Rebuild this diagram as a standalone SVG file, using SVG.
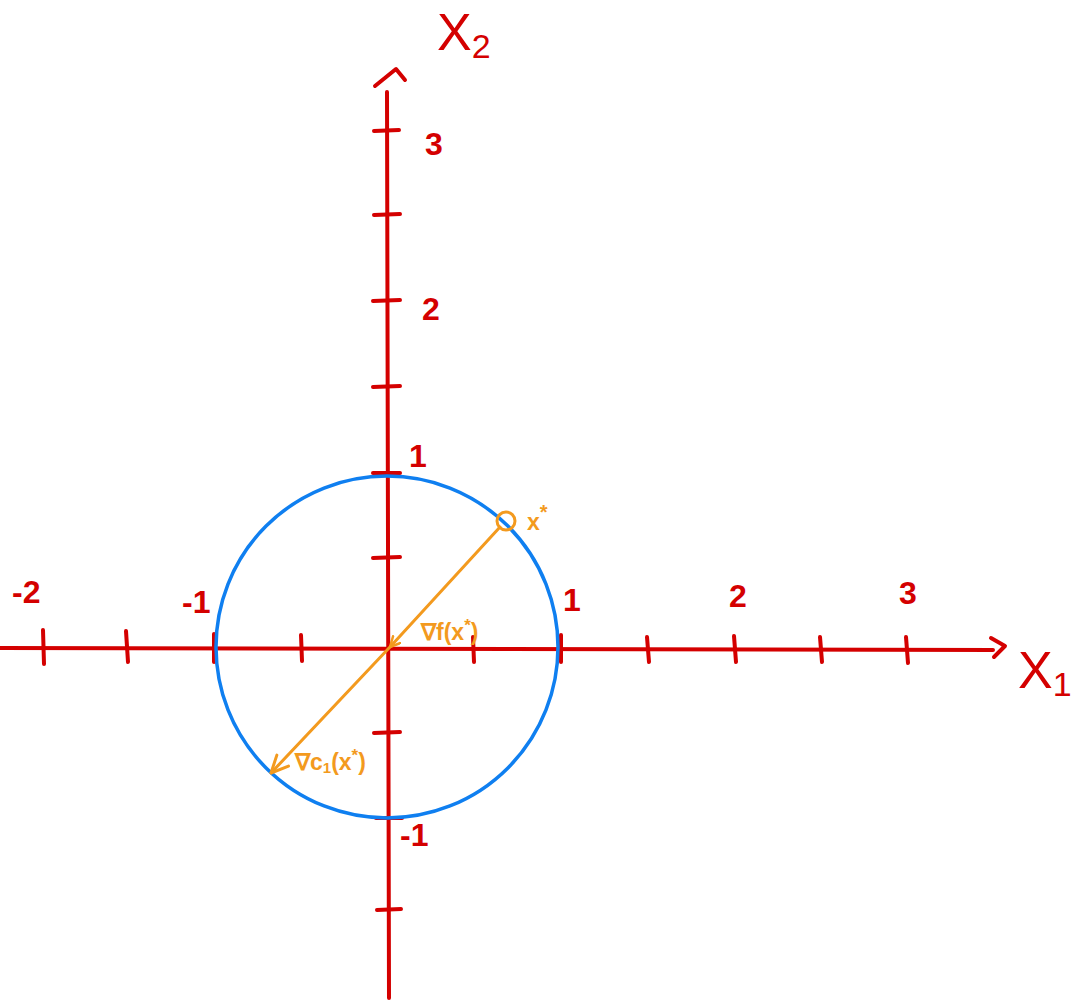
<svg xmlns="http://www.w3.org/2000/svg" width="1080" height="1000" viewBox="0 0 1080 1000">
<defs>
<style>
.ax{stroke:#d40000;stroke-width:4;fill:none;stroke-linecap:round;stroke-linejoin:round}
.tk{stroke:#d40000;stroke-width:4;stroke-linecap:round}
.lbl{fill:#d40000;font-family:"Liberation Sans",Arial,sans-serif;font-size:32px;font-weight:bold}
.big{fill:#d40000;font-family:"Liberation Sans",Arial,sans-serif;font-size:52px}
.or{stroke:#f39a1e;stroke-width:3;fill:none;stroke-linecap:round}
.ol{fill:#f39a1e;font-family:"Liberation Sans",Arial,sans-serif;font-size:23px;font-weight:bold}
</style>
<marker id="ah" viewBox="0 0 12 12" refX="11" refY="6" markerWidth="12" markerHeight="12" markerUnits="userSpaceOnUse" orient="auto">
<path d="M1,1 L11,6 L1,11" fill="none" stroke="#f39a1e" stroke-width="2.5" stroke-linecap="round" stroke-linejoin="round"/>
</marker>
<marker id="ah2" viewBox="0 0 20 20" refX="19" refY="10" markerWidth="20" markerHeight="20" markerUnits="userSpaceOnUse" orient="auto">
<path d="M2,2 L19,10 L2,18" fill="none" stroke="#f39a1e" stroke-width="3" stroke-linecap="round" stroke-linejoin="round"/>
</marker>
</defs>
<rect width="1080" height="1000" fill="#ffffff"/>
<g id="axes">
<path class="ax" d="M0,648 L993,650"/>
<path class="ax" d="M991,638 L1005,646 L994,657"/>
<path class="ax" d="M389,998 L387,92"/>
<path class="ax" d="M375,86 L396,69 L405,80"/>
</g>
<g id="x-ticks">
<line class="tk" x1="43" y1="630" x2="44" y2="664"/>
<line class="tk" x1="126" y1="631" x2="128" y2="662"/>
<line class="tk" x1="214" y1="634" x2="214" y2="662"/>
<line class="tk" x1="301" y1="635" x2="302" y2="661"/>
<line class="tk" x1="473" y1="637" x2="474" y2="662"/>
<line class="tk" x1="561" y1="635" x2="561" y2="662"/>
<line class="tk" x1="647" y1="637" x2="649" y2="662"/>
<line class="tk" x1="734" y1="636" x2="736" y2="662"/>
<line class="tk" x1="820" y1="637" x2="822" y2="662"/>
<line class="tk" x1="906" y1="637" x2="908" y2="663"/>
</g>
<g id="y-ticks">
<line class="tk" x1="374" y1="131" x2="399" y2="130"/>
<line class="tk" x1="374" y1="215" x2="400" y2="214"/>
<line class="tk" x1="373" y1="301" x2="400" y2="300"/>
<line class="tk" x1="373" y1="387" x2="400" y2="386"/>
<line class="tk" x1="373" y1="473" x2="400" y2="473"/>
<line class="tk" x1="373" y1="558" x2="400" y2="557"/>
<line class="tk" x1="374" y1="733" x2="400" y2="732"/>
<line class="tk" x1="376" y1="818" x2="402" y2="818"/>
<line class="tk" x1="377" y1="910" x2="401" y2="909"/>
</g>
<g id="tick-labels">
<text class="lbl" x="425" y="155">3</text>
<text class="lbl" x="422" y="320">2</text>
<text class="lbl" x="409" y="467">1</text>
<text class="lbl" x="400" y="846">-1</text>
<text class="lbl" x="12" y="603">-2</text>
<text class="lbl" x="182" y="613">-1</text>
<text class="lbl" x="563" y="611">1</text>
<text class="lbl" x="729" y="607">2</text>
<text class="lbl" x="899" y="604">3</text>
</g>
<g id="axis-labels">
<text class="big" x="437" y="50">X<tspan font-size="34" dy="8">2</tspan></text>
<text class="big" x="1018" y="688">X<tspan font-size="34" dy="8">1</tspan></text>
</g>
<g id="circle">
<circle cx="387" cy="647" r="171" fill="none" stroke="#0f7ff0" stroke-width="3.5"/>
</g>
<g id="connectors">
<line class="or" x1="500" y1="527" x2="390" y2="647" marker-end="url(#ah)"/>
<line class="or" x1="389" y1="648" x2="271" y2="773" marker-end="url(#ah2)"/>
</g>
<g id="point">
<circle cx="506" cy="521" r="9" fill="none" stroke="#f39a1e" stroke-width="3"/>
<text class="ol" x="527" y="530" font-size="26">x<tspan font-size="20" dy="-11">*</tspan></text>
</g>
<g id="vector-labels">
<text class="ol" x="421" y="640">∇f(x<tspan font-size="17" dy="-9">*</tspan><tspan dy="9">)</tspan></text>
<text class="ol" x="295" y="770">∇c<tspan font-size="15" dy="3">1</tspan><tspan dy="-3">(x</tspan><tspan font-size="17" dy="-9">*</tspan><tspan dy="9">)</tspan></text>
</g>
</svg>
